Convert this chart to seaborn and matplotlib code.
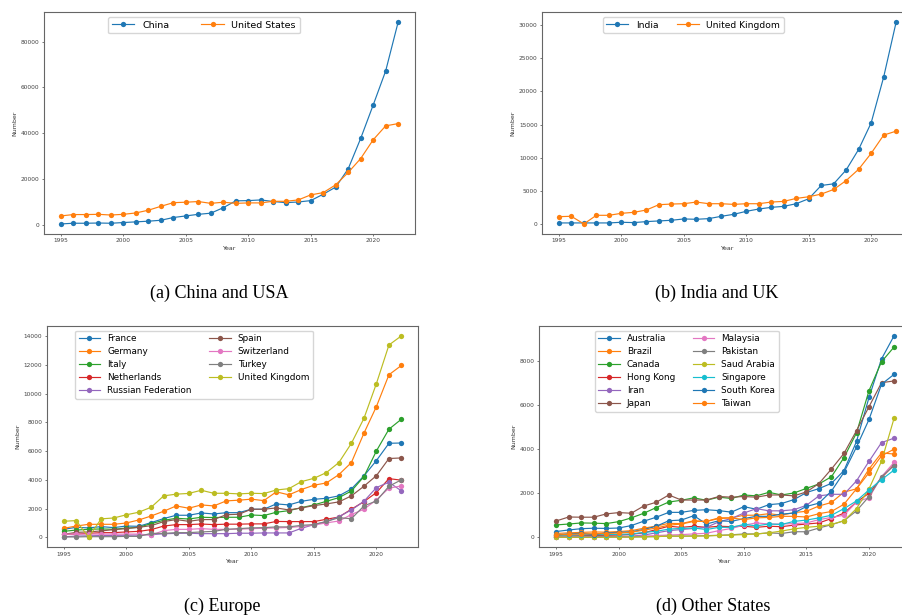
import matplotlib
matplotlib.use("Agg")
import matplotlib.pyplot as plt
from matplotlib.ticker import MultipleLocator
import seaborn as sns

# Years shared by all panels
years = list(range(1995, 2023))

# (a) China and USA
china = [300, 600, 600, 700, 600, 900, 1200, 1500, 1900, 3100, 3800, 4500, 5000, 7400,
         10400, 10500, 10800, 10100, 9600, 9900, 10500, 13300, 16400, 24400, 37700, 52300, 67200, 88600]
usa = [3800, 4400, 4400, 4500, 4200, 4500, 5100, 6300, 8000, 9600, 9800, 10100, 9300, 9800,
       9300, 9500, 9500, 10200, 10200, 10800, 13000, 14000, 17400, 22800, 28900, 37100, 43200, 44200]

# (b) India and UK
india = [150, 150, 150, 150, 150, 250, 200, 350, 450, 550, 750, 700, 800, 1150,
         1450, 1900, 2250, 2500, 2650, 3050, 3800, 5800, 6050, 8150, 11250, 15250, 22150, 30450]
uk = [1100, 1150, 0, 1300, 1300, 1600, 1750, 2100, 2900, 3000, 3050, 3300, 3050, 3050,
      2950, 3050, 3050, 3300, 3400, 3850, 4100, 4500, 5200, 6550, 8250, 10650, 13400, 14000]

# (c) Europe
europe_names = ["France", "Germany", "Italy", "Netherlands", "Russian Federation",
                "Spain", "Switzerland", "Turkey", "United Kingdom"]
france = [550, 690, 650, 740, 670, 780, 760, 1020, 1300, 1530, 1530, 1690, 1620, 1710,
          1710, 1950, 1950, 2320, 2250, 2500, 2640, 2710, 2880, 3360, 4270, 5340, 6540, 6560]
germany = [620, 780, 900, 900, 900, 990, 1200, 1480, 1810, 2180, 2020, 2250, 2180, 2530,
           2580, 2650, 2550, 3160, 2950, 3320, 3620, 3780, 4360, 5200, 7240, 9100, 11310, 11960]
italy = [410, 500, 550, 580, 550, 640, 690, 950, 1180, 1320, 1270, 1390, 1370, 1390,
         1390, 1550, 1510, 1740, 1850, 2060, 2250, 2500, 2760, 3220, 4220, 6010, 7520, 8220]
netherlands = [220, 220, 270, 320, 320, 370, 410, 530, 780, 880, 880, 920, 880, 910,
               910, 930, 930, 1100, 1090, 1090, 1090, 1250, 1410, 1950, 2480, 3110, 4080, 3970]
russia = [30, 80, 100, 120, 130, 140, 150, 180, 240, 270, 280, 250, 250, 250,
          280, 280, 300, 300, 300, 620, 880, 1090, 1430, 1900, 2500, 3460, 3830, 3220]
spain = [200, 340, 370, 440, 530, 600, 690, 810, 1090, 1230, 1110, 1230, 1230, 1570,
         1600, 1950, 1950, 2040, 1900, 2040, 2200, 2320, 2460, 2880, 3550, 4290, 5480, 5520]
switzerland = [220, 220, 220, 220, 220, 220, 220, 150, 460, 550, 550, 600, 550, 550,
               560, 600, 620, 650, 680, 750, 850, 1000, 1130, 1580, 1950, 2600, 3420, 3570]
turkey = [20, 20, 40, 40, 40, 60, 60, 270, 270, 320, 320, 370, 410, 550,
          600, 650, 670, 720, 720, 830, 880, 1100, 1360, 1290, 2180, 2530, 3550, 4000]
uk_eu = [1110, 1160, 0, 1280, 1340, 1560, 1740, 2090, 2880, 3000, 3050, 3270, 3060, 3060,
         3020, 3060, 3040, 3290, 3380, 3870, 4100, 4500, 5200, 6540, 8270, 10700, 13380, 14020]
europe_values = [france, germany, italy, netherlands, russia, spain, switzerland, turkey, uk_eu]

# (d) Other States
other_names = ["Australia", "Brazil", "Canada", "Hong Kong", "Iran", "Japan",
               "Malaysia", "Pakistan", "Saud Arabia", "Singapore", "South Korea", "Taiwan"]
australia = [260, 330, 390, 410, 400, 420, 530, 730, 910, 1130, 1130, 1220, 1250, 1210,
             1140, 1390, 1270, 1480, 1530, 1710, 2030, 2210, 2450, 3030, 4350, 6350, 8100, 9150]
brazil = [170, 200, 220, 240, 230, 260, 300, 410, 510, 630, 620, 750, 720, 880,
          880, 1000, 1000, 1070, 1000, 1120, 1180, 1420, 1580, 2050, 2200, 3100, 3830, 3780]
canada = [560, 600, 650, 640, 620, 710, 880, 1090, 1350, 1600, 1680, 1790, 1680, 1820,
          1760, 1920, 1880, 2040, 1920, 2010, 2220, 2420, 2750, 3620, 4740, 6660, 7970, 8640]
hong_kong = [50, 60, 70, 80, 90, 100, 130, 200, 350, 500, 450, 500, 450, 500,
             480, 500, 450, 500, 480, 550, 600, 650, 850, 1100, 1600, 2000, 2700, 3300]
iran = [20, 20, 20, 30, 30, 40, 50, 100, 200, 300, 350, 400, 450, 700,
        850, 1100, 1300, 1200, 1200, 1250, 1450, 1880, 1950, 1950, 2560, 3450, 4300, 4500]
japan = [740, 920, 910, 910, 1060, 1120, 1090, 1420, 1590, 1920, 1690, 1690, 1690, 1850,
         1820, 1850, 1820, 1920, 1920, 1880, 2060, 2440, 3100, 3810, 4840, 5930, 7020, 7100]
malaysia = [10, 10, 10, 10, 10, 20, 30, 50, 80, 100, 120, 150, 180, 300,
            400, 550, 650, 600, 600, 620, 650, 800, 900, 1000, 1600, 1800, 2750, 3400]
pakistan = [0, 0, 0, 0, 10, 10, 10, 20, 30, 50, 50, 60, 70, 90,
            110, 150, 150, 200, 170, 250, 250, 420, 570, 750, 1200, 1850, 2750, 3250]
saudi = [0, 0, 0, 0, 0, 10, 10, 20, 30, 50, 50, 50, 60, 80,
         100, 120, 150, 200, 280, 380, 450, 500, 580, 750, 1300, 2200, 3450, 5400]
singapore = [80, 100, 110, 110, 120, 130, 150, 220, 270, 370, 400, 420, 350, 450,
             450, 580, 520, 600, 580, 720, 780, 880, 1000, 1300, 1650, 2150, 2620, 3050]
south_korea = [100, 150, 180, 120, 200, 220, 250, 350, 500, 750, 780, 980, 600, 750,
               720, 850, 950, 950, 1050, 1100, 1400, 1550, 2100, 2950, 4100, 5350, 6950, 7400]
taiwan = [100, 130, 150, 160, 170, 190, 230, 320, 420, 550, 600, 720, 720, 850,
          880, 800, 880, 900, 950, 950, 920, 1070, 1170, 1500, 2200, 2930, 3700, 4000]
other_values = [australia, brazil, canada, hong_kong, iran, japan, malaysia,
                pakistan, saudi, singapore, south_korea, taiwan]

captions = ["(a) China and USA", "(b) India and UK", "(c) Europe", "(d) Other States"]

TAB = sns.color_palette("tab10")
TICK_FS = 4.2
LABEL_FS = 4.5


def draw_panel(ax, names, values, ystep, legend_x, legend_fs=6.4, colspacing=2.0):
    for i, (name, vals) in enumerate(zip(names, values)):
        sns.lineplot(x=years, y=vals, ax=ax, label=name, color=TAB[i % 10],
                     marker="o", markersize=3.8, linewidth=0.85,
                     markeredgecolor=None, markeredgewidth=0)
    ax.xaxis.set_major_locator(MultipleLocator(5))
    ax.yaxis.set_major_locator(MultipleLocator(ystep))
    ax.set_xlabel("Year", fontsize=LABEL_FS, labelpad=1.5, color="#333333")
    ax.set_ylabel("Number", fontsize=LABEL_FS, labelpad=2.5, color="#333333")
    ax.tick_params(labelsize=TICK_FS, length=1.6, width=0.5, pad=1.6,
                   colors="#444444")
    for sp in ax.spines.values():
        sp.set_color("#666666")
        sp.set_linewidth(0.8)
    ax.legend(loc="upper left", bbox_to_anchor=(legend_x, 0.978), borderaxespad=0,
              ncol=2, fontsize=legend_fs, handlelength=2.4,
              columnspacing=colspacing, labelspacing=0.45, borderpad=0.4,
              framealpha=0.8, edgecolor="#cccccc")


fig = plt.figure(figsize=(9.02, 6.16), dpi=100)

ax_a = fig.add_axes([0.0488, 0.6201, 0.4113, 0.3604])
ax_b = fig.add_axes([0.6009, 0.6201, 0.4113, 0.3604])
ax_c = fig.add_axes([0.0518, 0.1115, 0.4120, 0.3597])
ax_d = fig.add_axes([0.5979, 0.1115, 0.4120, 0.3597])

draw_panel(ax_a, ["China", "United States"], [china, usa], 20000, 0.1725,
           legend_fs=6.8, colspacing=3.4)
draw_panel(ax_b, ["India", "United Kingdom"], [india, uk], 5000, 0.1636, legend_fs=6.6)
draw_panel(ax_c, europe_names, europe_values, 2000, 0.0762)
draw_panel(ax_d, other_names, other_values, 2000, 0.1497)

cap_kw = dict(fontsize=13, family=["Liberation Serif", "DejaVu Serif"],
              ha="center", va="center", color="black")
fig.text(219 / 902, 1 - 293 / 616, captions[0], **cap_kw)
fig.text(717 / 902, 1 - 293 / 616, captions[1], **cap_kw)
fig.text(222 / 902, 1 - 606 / 616, captions[2], **cap_kw)
fig.text(713 / 902, 1 - 606 / 616, captions[3], **cap_kw)

fig.savefig("out.png", dpi=100)
